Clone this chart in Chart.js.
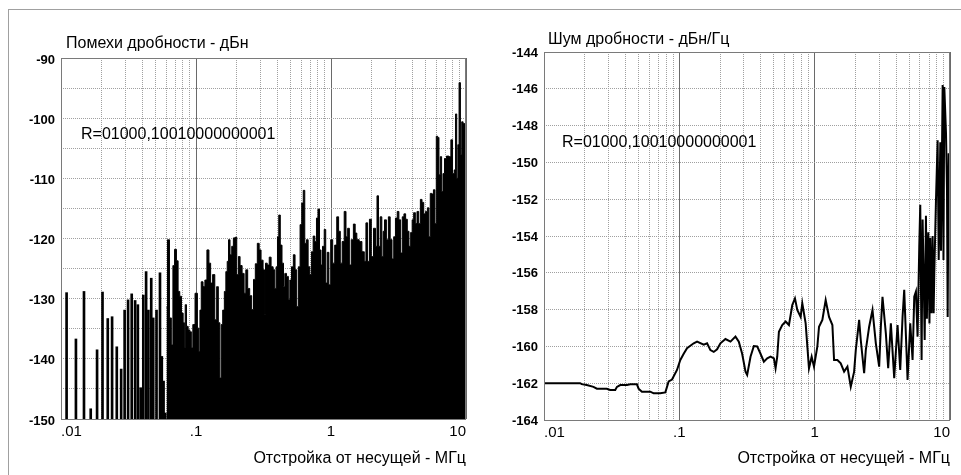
<!DOCTYPE html>
<html><head><meta charset="utf-8">
<script src="https://cdn.jsdelivr.net/npm/chart.js@4.4.1/dist/chart.umd.min.js"></script>
<style>
html,body{margin:0;padding:0;background:#fff;}
#wrap{position:relative;width:961px;height:475px;overflow:hidden;background:#fff;}
#frameTop{position:absolute;left:8px;top:9px;width:953px;height:1px;background:#a0a0a0;}
#frameLeft{position:absolute;left:8px;top:9px;width:1px;height:466px;background:#a0a0a0;}
canvas{position:absolute;top:0;}
#c1{left:0;} #c2{left:480px;}
</style></head><body>
<div id="wrap"><div id="frameTop"></div><div id="frameLeft"></div>
<canvas id="c1" width="480" height="475"></canvas>
<canvas id="c2" width="481" height="475"></canvas></div>
<script>
// ---------- data ----------
const xGridValues = [0.01,0.02,0.03,0.04,0.05,0.06,0.07,0.08,0.09,0.1,0.2,0.3,0.4,0.5,0.6,0.7,0.8,0.9,1,2,3,4,5,6,7,8,9,10];
const xLabelValues = [0.01,0.1,1,10];
const xLabelTexts = ['.01','.1','1','10'];

const leftYGrid = [-150,-145,-140,-135,-130,-125,-120,-115,-110,-105,-100,-95,-90];
const leftYLabels = [-150,-140,-130,-120,-110,-100,-90];
const rightYGrid = [-164,-162,-160,-158,-156,-154,-152,-150,-148,-146,-144];
const rightYLabels = [-164,-162,-160,-158,-156,-154,-152,-150,-148,-146,-144];

const leftTitle = 'Помехи дробности - дБн';
const rightTitle = 'Шум дробности - дБн/Гц';
const noteText = 'R=01000,10010000000001';
const xAxisTitle = 'Отстройка от несущей - МГц';

// discrete spurs (MHz, dBc)
const spurFreq = [0.0110,0.0129,0.0148,0.0166,0.0185,0.0203,0.0222,0.0239,0.0259,0.0279,0.0296,0.0314,0.0334,0.0354,0.0371,0.0389,0.0407,0.0427,0.0444,0.0466,0.0482,0.0510,0.0541,0.0558,0.0575,0.0592];
const spurLevel = [-129,-136.7,-128.8,-148.3,-138.5,-128.9,-133.3,-133,-138,-141.7,-131.9,-130.2,-129.2,-130.3,-131,-144.8,-129.4,-125.5,-131.9,-126.6,-133.2,-131.9,-125.7,-139.6,-143.7,-149];

// dense spur field (MHz, dBc)
const denseFreq = [0.0605,0.0626,0.0646,0.0667,0.0682,0.0706,0.0727,0.0747,0.0769,0.0792,0.0814,0.0826,0.0838,0.0863,0.0887,0.0913,0.0934,0.0961,0.1007,0.1042,0.1060,0.1079,0.1108,0.1147,0.1181,0.1229,0.1265,0.1302,0.1354,0.1402,0.1443,0.1484,0.1520,0.1554,0.1600,0.1644,0.1684,0.1722,0.1761,0.1813,0.1866,0.1918,0.1975,0.2034,0.2090,0.2152,0.2239,0.2305,0.2373,0.2456,0.2542,0.2630,0.2704,0.2798,0.2895,0.2981,0.3086,0.3193,0.3240,0.3304,0.3437,0.3538,0.3661,0.3790,0.3875,0.3969,0.4058,0.4150,0.4273,0.4399,0.4498,0.4600,0.4761,0.4901,0.5010,0.5185,0.5339,0.5497,0.5649,0.5817,0.5989,0.6156,0.6306,0.6481,0.6673,0.6870,0.7061,0.7270,0.7485,0.7693,0.7920,0.8099,0.8339,0.8527,0.8780,0.9040,0.9243,0.9515,0.9779,1.012,1.047,1.084,1.122,1.155,1.189,1.231,1.274,1.309,1.348,1.388,1.436,1.494,1.527,1.580,1.655,1.734,1.794,1.835,1.899,1.955,2.023,2.105,2.167,2.216,2.281,2.345,2.414,2.456,2.528,2.616,2.707,2.782,2.880,2.951,3.053,3.138,3.231,3.327,3.419,3.520,3.624,3.725,3.835,3.948,4.038,4.157,4.272,4.398,4.529,4.655,4.793,4.934,5.106,5.248,5.377,5.497,5.660,5.817,5.958,6.092,6.230,6.381,6.525,6.672,6.834,7.024,7.320,7.614,7.840,8.058,8.297,8.441,8.630,8.779,8.992,9.195,9.401,9.630,9.966];
const denseLevel = [-131.4,-120.2,-133.2,-137.7,-124.5,-121.8,-123.7,-128.8,-129.6,-132.4,-134.0,-138.2,-131.0,-134.6,-135.2,-135.5,-138.2,-134.3,-129.1,-134.9,-138.8,-131.9,-127.2,-128.0,-126.9,-121.9,-124.1,-127.4,-126.0,-133.5,-128.0,-134.0,-143.2,-134.3,-131.9,-128.8,-125.5,-123.8,-120.2,-122.7,-121.3,-119.9,-119.8,-126.0,-123.0,-124.5,-125.8,-129.1,-125.2,-128.3,-129.5,-131.8,-126.8,-124.2,-120.8,-121.9,-123.6,-125.2,-132.7,-124.1,-124.4,-123.1,-124.7,-125.2,-128.3,-124.7,-119.7,-116.1,-121.1,-124.1,-128.0,-125.8,-126.3,-130.2,-126.9,-124.7,-122.7,-125.2,-131.3,-124.7,-117.7,-114.1,-112.0,-120.8,-120.2,-124.7,-126.0,-122.2,-119.6,-120.5,-116.6,-115.1,-121.9,-124.4,-121.3,-118.5,-127.4,-122.3,-127.7,-120.2,-124.1,-121.1,-116.4,-118.8,-124.1,-120.5,-115.5,-119.7,-118.3,-124.4,-120.2,-117.6,-119.1,-120.2,-120.5,-122.2,-123.8,-117.4,-123.8,-116.8,-123.0,-118.3,-121.3,-112.9,-121.3,-116.4,-123.0,-118.8,-116.9,-120.2,-116.4,-120.2,-123.4,-119.7,-116.6,-115.5,-116.9,-122.4,-116.4,-115.9,-116.8,-118.8,-121.3,-119.0,-116.9,-115.7,-117.5,-115.5,-117.5,-113.5,-114.0,-115.9,-115.5,-114.9,-119.7,-112.5,-112.6,-111.9,-117.5,-103.0,-103.2,-109.4,-106.4,-112.2,-109.2,-106.7,-106.3,-106.4,-103.6,-109.2,-108.6,-99.3,-110.0,-104.4,-94.1,-106.1,-100.6,-100.9,-100.9];

// fractional noise (MHz, dBc/Hz)
const noiseFreq = [0.01,0.0185,0.0190,0.0207,0.0232,0.0246,0.0291,0.0308,0.0336,0.0346,0.0366,0.0410,0.0434,0.0486,0.0500,0.0529,0.0610,0.0646,0.0723,0.0788,0.0834,0.0883,0.0961,0.1017,0.1077,0.1140,0.1277,0.1352,0.1514,0.1603,0.1697,0.1796,0.1901,0.2012,0.2191,0.2387,0.2599,0.2751,0.2912,0.3083,0.3171,0.3357,0.3553,0.3761,0.3981,0.4214,0.4461,0.4722,0.4998,0.5142,0.5290,0.5443,0.5761,0.6099,0.6455,0.6833,0.7151,0.7440,0.7877,0.8102,0.8577,0.9078,0.9502,0.9887,1.047,1.077,1.140,1.206,1.277,1.352,1.391,1.472,1.558,1.650,1.746,1.848,1.957,2.013,2.131,2.191,2.320,2.387,2.527,2.675,2.831,2.996,3.083,3.171,3.357,3.493,3.656,3.870,4.097,4.287,4.461,4.589,4.858,5.084,5.290,5.443,5.600,5.761,5.927,6.029,6.168,6.275,6.382,6.50,6.641,6.75,6.833,6.911,7.05,7.151,7.30,7.440,7.568,7.656,7.877,8.102,8.25,8.479,8.577,8.826,8.95,9.078,9.341,9.502,9.610,9.775,10.0];
const noiseLevel = [-162.0,-162.0,-162.05,-162.1,-162.2,-162.3,-162.3,-162.37,-162.37,-162.2,-162.1,-162.1,-162.06,-162.06,-162.3,-162.46,-162.46,-162.55,-162.55,-162.5,-161.9,-161.8,-161.28,-160.74,-160.4,-160.1,-159.83,-159.74,-159.9,-159.83,-160.2,-160.3,-160.16,-159.83,-159.6,-159.74,-159.47,-159.74,-160.4,-161.37,-161.55,-160.56,-159.98,-160.0,-160.4,-160.83,-160.65,-160.56,-160.65,-161.19,-160.56,-159.2,-158.84,-158.65,-158.84,-157.75,-157.39,-158.02,-158.4,-157.66,-158.75,-161.19,-160.56,-161.1,-160.0,-158.93,-158.56,-157.48,-158.4,-158.84,-160.74,-160.74,-160.92,-161.37,-161.1,-162.19,-161.37,-160.2,-158.56,-159.65,-161.46,-160.2,-158.93,-158.02,-159.83,-161.1,-158.93,-157.3,-159.29,-161.19,-158.75,-161.73,-158.84,-161.28,-158.4,-156.93,-161.82,-158.75,-160.74,-157.3,-157.02,-159.47,-154.58,-152.3,-160.74,-153.1,-156.03,-159.65,-152.9,-158.5,-154.94,-153.8,-158.75,-154.1,-158.2,-154.0,-158.2,-156.0,-152.04,-148.8,-155.3,-148.9,-154.8,-145.8,-155.3,-145.9,-148.4,-151.5,-158.4,-149.5,-152.0];

// ---------- helpers ----------
const FONT = "'Liberation Sans', Arial, sans-serif";
Chart.defaults.font.family = FONT;
Chart.defaults.color = '#000';
function isDecade(v){ const l = Math.log10(v); return Math.abs(l - Math.round(l)) < 1e-6; }
function xLabel(v){
  for (let i = 0; i < xLabelValues.length; i++) if (Math.abs(v - xLabelValues[i]) / xLabelValues[i] < 1e-6) return xLabelTexts[i];
  return '';
}
function setTicks(list){ return s => { s.ticks = list.map(v => ({value: v})); }; }

const panelText = {
  id: 'panelText',
  afterDatasetsDraw(chart, args, o) {
    const ctx = chart.ctx, a = chart.chartArea;
    ctx.save();
    ctx.strokeStyle = '#7a7a7a';
    ctx.lineWidth = 1;
    ctx.strokeRect(Math.round(a.left) + 0.5, Math.round(a.top) + 0.5, Math.round(a.right - a.left) - 1, Math.round(a.bottom - a.top));
    ctx.fillStyle = '#000';
    ctx.textBaseline = 'middle';
    ctx.textAlign = 'left';
    ctx.font = o.titleFont;
    ctx.fillText(o.title, a.left + o.titleDX, a.top + o.titleDY);
    ctx.font = o.noteFont;
    ctx.fillText(o.note, a.left + o.noteDX, a.top + o.noteDY);
    ctx.restore();
  }
};

function xScale(height){
  return {
    type: 'logarithmic', min: 0.01, max: 10, offset: false,
    afterBuildTicks: setTicks(xGridValues),
    afterFit: s => { s.height = height; },
    ticks: { autoSkip: false, maxRotation: 0, minRotation: 0, align: 'inner', padding: 4,
      font: { size: 15 }, color: '#000', callback: v => xLabel(v) },
    grid: { offset: false, drawTicks: false, lineWidth: 1,
      color: c => (c.tick && isDecade(c.tick.value)) ? '#6a6a6a' : '#a0a0a0' },
    border: { display: false, dash: c => (c.tick && isDecade(c.tick.value)) ? [] : [1, 1] },
    title: { display: true, text: xAxisTitle, align: 'end', font: { size: 16 }, color: '#000', padding: { top: 0, bottom: 7 } }
  };
}
function yScale(min, max, grid, labels, width, labelOffset){
  return {
    type: 'linear', min, max,
    afterBuildTicks: setTicks(grid),
    afterFit: s => { s.width = width; },
    ticks: { autoSkip: false, padding: 6, labelOffset, font: { size: 13, weight: 'bold' }, color: '#000',
      callback: v => labels.includes(v) ? String(v) : '' },
    grid: { drawTicks: false, lineWidth: 1, color: '#a0a0a0' },
    border: { display: false, dash: [1, 1] }
  };
}

// ---------- left chart ----------
new Chart(document.getElementById('c1'), {
  type: 'bar',
  data: {
    datasets: [
      { type: 'bar', data: spurFreq.map((f, i) => ({ x: f, y: [leftYGrid[0], spurLevel[i]] })),
        backgroundColor: '#000', borderWidth: 0, barThickness: 2, grouped: false, order: 2 },
      { type: 'line', data: denseFreq.map((f, i) => ({ x: f, y: denseLevel[i] })),
        borderColor: '#000', backgroundColor: '#000', borderWidth: 1, pointRadius: 0,
        fill: 'start', stepped: 'middle', order: 1 }
    ]
  },
  options: {
    responsive: false, animation: false, events: [], devicePixelRatio: 1,
    layout: { padding: { left: 0, right: 14, top: 58, bottom: 0 } },
    plugins: { legend: { display: false }, tooltip: { enabled: false },
      panelText: { title: leftTitle, titleFont: "16px " + FONT, titleDX: 5, titleDY: -14,
                   note: noteText, noteFont: "16px " + FONT, noteDX: 20, noteDY: 77 } },
    scales: { x: xScale(56), y: yScale(-150, -90, leftYGrid, leftYLabels, 61, 2) }
  },
  plugins: [panelText]
});

// ---------- right chart ----------
new Chart(document.getElementById('c2'), {
  type: 'line',
  data: {
    datasets: [
      { data: noiseFreq.map((f, i) => ({ x: f, y: noiseLevel[i] })),
        borderColor: '#000', borderWidth: 2, pointRadius: 0, fill: false, tension: 0 }
    ]
  },
  options: {
    responsive: false, animation: false, events: [], devicePixelRatio: 1,
    layout: { padding: { left: 0, right: 11, top: 52, bottom: 0 } },
    plugins: { legend: { display: false }, tooltip: { enabled: false },
      panelText: { title: rightTitle, titleFont: "16px " + FONT, titleDX: 4, titleDY: -12,
                   note: noteText, noteFont: "16px " + FONT, noteDX: 18, noteDY: 91 } },
    scales: { x: xScale(55), y: yScale(-164, -144, rightYGrid, rightYLabels, 64, 1) }
  },
  plugins: [panelText]
});
</script>
</body></html>
